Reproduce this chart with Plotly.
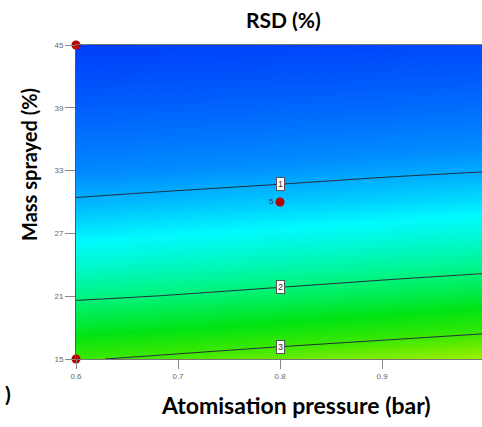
import numpy as np
import plotly.graph_objects as go

# Factor grid
pressure = [0.6, 0.7, 0.8, 0.9, 1.0]
mass = [15, 18, 21, 24, 27, 30, 33, 36, 39, 42, 45]
# RSD (%) estimated at each (mass row, pressure column)
rsd = [
    [2.96, 3.10, 3.25, 3.40, 3.57],
    [2.39, 2.49, 2.61, 2.73, 2.86],
    [1.94, 2.02, 2.11, 2.21, 2.31],
    [1.58, 1.65, 1.72, 1.80, 1.88],
    [1.28, 1.34, 1.40, 1.46, 1.53],
    [1.03, 1.08, 1.13, 1.18, 1.24],
    [0.82, 0.86, 0.90, 0.95, 0.99],
    [0.64, 0.67, 0.71, 0.75, 0.79],
    [0.48, 0.51, 0.54, 0.57, 0.61],
    [0.34, 0.37, 0.39, 0.42, 0.45],
    [0.22, 0.24, 0.27, 0.29, 0.32],
]
contour_levels = [1, 2, 3]

# Design points
design_x = [0.6, 0.6, 1.0, 1.0, 0.8]
design_y = [45, 15, 45, 15, 30]
design_lbl = ["", "", "", "", "5"]

x_ticks = [0.6, 0.7, 0.8, 0.9]
y_ticks = [15, 21, 27, 33, 39, 45]

colorscale = [
    [0.00, "rgb(0,60,250)"],
    [0.19, "rgb(0,140,255)"],
    [0.34, "rgb(0,250,255)"],
    [0.50, "rgb(0,245,140)"],
    [0.68, "rgb(0,228,20)"],
    [0.82, "rgb(60,232,0)"],
    [1.00, "rgb(165,240,0)"],
]

W, H = 482, 427
L, R, T, B = 76, 0, 45, 68
PW, PH = W - L - R, H - T - B

def px(xp):
    return (xp - L) / PW

def py(yp):
    return (H - B - yp) / PH

fig = go.Figure()
fig.add_trace(go.Contour(
    x=pressure, y=mass, z=rsd,
    zmin=0.2, zmax=3.6, colorscale=colorscale, showscale=False,
    contours=dict(coloring="heatmap", start=contour_levels[0], end=contour_levels[-1], size=1, showlabels=False),
    line=dict(color="#23303c", width=1),
    hoverinfo="skip",
))

fig.add_trace(go.Scatter(
    x=design_x, y=design_y, mode="markers+text",
    text=design_lbl, textposition="middle left",
    textfont=dict(size=8, color="#333333", family="Liberation Sans"),
    marker=dict(size=9, color="#b40000", line=dict(width=0)),
    cliponaxis=False, hoverinfo="skip",
))

# contour labels located where each level crosses the x=0.8 column
col = [row[pressure.index(0.8)] for row in rsd]
annotations = []
for lv in contour_levels:
    yl = float(np.interp(lv, col[::-1], mass[::-1]))
    annotations.append(dict(
        x=0.8, y=yl, text=str(lv), showarrow=False,
        font=dict(size=9, color="#333333", family="Liberation Sans"),
        bgcolor="white", bordercolor="#555555", borderwidth=1, borderpad=1,
    ))

annotations += [
    dict(x=px(3), y=py(393), xref="paper", yref="paper", text="<b>)</b>", showarrow=False,
         font=dict(size=21, color="black", family="Lato"), xanchor="left", yanchor="middle"),
    dict(x=px(283), y=py(19), xref="paper", yref="paper", text="<b>RSD (%)</b>", showarrow=False,
         font=dict(size=21, color="black", family="Lato"), xanchor="center", yanchor="middle"),
    dict(x=px(296), y=py(405), xref="paper", yref="paper", text="<b>Atomisation pressure (bar)</b>",
         showarrow=False, font=dict(size=23, color="black", family="Lato"), xanchor="center", yanchor="middle"),
    dict(x=px(29), y=py(165), xref="paper", yref="paper", text="<b>Mass sprayed (%)</b>", textangle=-90,
         showarrow=False, font=dict(size=20, color="black", family="Lato"), xanchor="center", yanchor="middle"),
]

fig.update_layout(
    width=W, height=H,
    margin=dict(l=L, r=R, t=T, b=B),
    plot_bgcolor="white", paper_bgcolor="white",
    showlegend=False,
    xaxis=dict(
        range=[0.6, 0.998], tickvals=x_ticks, ticktext=[str(v) for v in x_ticks],
        ticks="outside", ticklen=9, tickcolor="#888888", tickwidth=1,
        tickfont=dict(size=8, color="#666666", family="Liberation Sans"),
        showgrid=False, zeroline=False, showline=True, linecolor="#777777", linewidth=1, mirror=True,
    ),
    yaxis=dict(
        range=[15, 45], tickvals=y_ticks, ticktext=[str(v) for v in y_ticks],
        ticks="outside", ticklen=10, tickcolor="#888888", tickwidth=1,
        tickfont=dict(size=8, color="#666666", family="Liberation Sans"),
        showgrid=False, zeroline=False, showline=True, linecolor="#555555", linewidth=1,
    ),
    annotations=annotations,
)

fig.write_html("out.html")
